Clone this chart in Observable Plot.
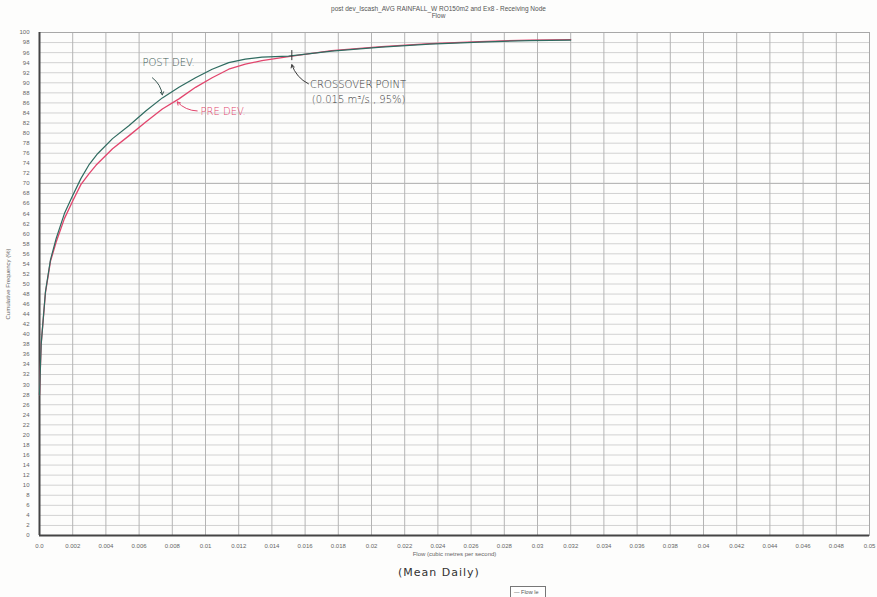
<!DOCTYPE html>
<html>
<head>
<meta charset="utf-8">
<script src="https://cdn.jsdelivr.net/npm/d3@7"></script>
<script src="https://cdn.jsdelivr.net/npm/@observablehq/plot@0.6"></script>
<style>
  html, body { margin: 0; padding: 0; background: #fdfdfc; }
  body { width: 877px; height: 597px; overflow: hidden; position: relative; font-family: "Liberation Sans", Arial, sans-serif; }
  #title { position: absolute; top: 5px; left: 0; width: 877px; text-align: center; font-size: 6.5px; line-height: 7px; color: #555; }
  #chart { position: absolute; top: 22px; left: 0; }
  #note { position: absolute; top: 566px; left: 398px; font-family: "DejaVu Sans", sans-serif; font-size: 11px; color: #333; letter-spacing: 1px; }
  #legend { position: absolute; top: 586px; left: 510px; width: 36px; height: 14px; border: 1px solid #777; font-size: 5.5px; color: #555; padding: 2px 0 0 3px; box-sizing: border-box; background: #fff; }
</style>
</head>
<body>
<div id="title">post dev_Iscash_AVG RAINFALL_W RO150m2 and Ex8 - Receiving Node<br>Flow</div>
<div id="chart"></div>
<div id="note">(Mean Daily)</div>
<div id="legend">— Flow le</div>
<script>
// Flow (m3/s) and cumulative frequency (%)
const postFlow = [0, 0.0001, 0.00036, 0.00066, 0.001, 0.0015, 0.002, 0.0025, 0.003, 0.0035, 0.0044, 0.0054, 0.0064, 0.0074, 0.0084, 0.0094, 0.0104, 0.0114, 0.0124, 0.0134, 0.015, 0.0176, 0.0206, 0.0235, 0.0265, 0.0295, 0.032];
const postFreq = [28, 38, 48.5, 54.8, 59, 64, 67.6, 71, 73.8, 75.9, 78.9, 81.5, 84.4, 87, 89.1, 91, 92.7, 94, 94.7, 95.1, 95.3, 96.3, 97.1, 97.7, 98.1, 98.4, 98.5];
const preFlow = [0, 0.0001, 0.00036, 0.00066, 0.001, 0.0015, 0.002, 0.0025, 0.003, 0.0034, 0.0044, 0.0054, 0.0064, 0.0074, 0.0084, 0.0094, 0.0104, 0.0114, 0.0124, 0.0134, 0.015, 0.0176, 0.0206, 0.0235, 0.0265, 0.0295, 0.032];
const preFreq = [28, 38, 48.3, 54.5, 58.3, 63, 66.5, 69.8, 72, 73.6, 76.9, 79.5, 82.2, 84.8, 86.8, 89.1, 91, 92.7, 93.7, 94.4, 95.2, 96.4, 97.2, 97.8, 98.2, 98.5, 98.6];

const xTicks = [0, 0.002, 0.004, 0.006, 0.008, 0.01, 0.012, 0.014, 0.016, 0.018, 0.02, 0.022, 0.024, 0.026, 0.028, 0.03, 0.032, 0.034, 0.036, 0.038, 0.04, 0.042, 0.044, 0.046, 0.048, 0.05];
const xTickLabels = ["0.0", "0.002", "0.004", "0.006", "0.008", "0.01", "0.012", "0.014", "0.016", "0.018", "0.02", "0.022", "0.024", "0.026", "0.028", "0.03", "0.032", "0.034", "0.036", "0.038", "0.04", "0.042", "0.044", "0.046", "0.048", "0.05"];
const yTicks = [0, 2, 4, 6, 8, 10, 12, 14, 16, 18, 20, 22, 24, 26, 28, 30, 32, 34, 36, 38, 40, 42, 44, 46, 48, 50, 52, 54, 56, 58, 60, 62, 64, 66, 68, 70, 72, 74, 76, 78, 80, 82, 84, 86, 88, 90, 92, 94, 96, 98, 100];

// handwritten annotations (data units)
const noteText = ["POST DEV.", "PRE DEV.", "CROSSOVER POINT", "(0.015 m³/s , 95%)"];
const noteX = [0.0062, 0.0097, 0.0163, 0.0164];
const noteY = [94, 84.2, 89.6, 86.6];
const noteColor = ["#3e5a55", "#e2456d", "#3a3a3a", "#3a3a3a"];
const arrowX1 = [0.0068, 0.0095, 0.0162];
const arrowY1 = [91, 84.4, 89.8];
const arrowX2 = [0.0074, 0.0083, 0.0152];
const arrowY2 = [87.6, 86.2, 93.6];
const arrowColor = ["#3e5a55", "#e2456d", "#3a3a3a"];
const crossX = [0.0152];
const crossY1 = [94.4];
const crossY2 = [96.4];

const post = postFlow.map((x, i) => ({x, y: postFreq[i]}));
const pre = preFlow.map((x, i) => ({x, y: preFreq[i]}));
const notes = noteText.map((t, i) => ({t, x: noteX[i], y: noteY[i], c: noteColor[i]}));
const arrows = arrowX1.map((x1, i) => ({x1, y1: arrowY1[i], x2: arrowX2[i], y2: arrowY2[i], c: arrowColor[i]}));
const cross = crossX.map((x, i) => ({x, y1: crossY1[i], y2: crossY2[i]}));

const chart = Plot.plot({
  width: 877,
  height: 540,
  marginLeft: 39,
  marginRight: 8,
  marginTop: 10,
  marginBottom: 27,
  style: {fontSize: "6px", fontFamily: "Liberation Sans, Arial, sans-serif", color: "#666", background: "transparent"},
  x: {domain: [0, 0.05], ticks: xTicks},
  y: {domain: [0, 100], ticks: yTicks},
  marks: [
    Plot.gridY(yTicks, {stroke: "#d2d2d2", strokeOpacity: 1}),
    Plot.ruleY([70], {stroke: "#b4b4b4", strokeWidth: 1}),
    Plot.gridX(xTicks, {stroke: "#b4b4b4", strokeOpacity: 1}),
    Plot.frame({stroke: "#a8a8a8"}),
    Plot.ruleX([0], {stroke: "#444", strokeWidth: 2}),
    Plot.ruleY([0], {stroke: "#444", strokeWidth: 2}),
    Plot.axisX({ticks: xTicks, tickSize: 0, tickPadding: 8, tickFormat: (d, i) => xTickLabels[i], label: "Flow (cubic metres per second)", labelAnchor: "center", labelArrow: "none", labelOffset: 20, fill: "#666"}),
    Plot.axisY({ticks: yTicks, tickSize: 0, tickPadding: 10, label: "Cumulative Frequency (%)", labelAnchor: "center", labelArrow: "none", labelOffset: 34, fill: "#666"}),
    Plot.line(pre, {x: "x", y: "y", stroke: "#e2456d", strokeWidth: 1.3}),
    Plot.line(post, {x: "x", y: "y", stroke: "#2f6b60", strokeWidth: 1.2}),
    Plot.ruleX(cross, {x: "x", y1: "y1", y2: "y2", stroke: "#333", strokeWidth: 1}),
    Plot.arrow(arrows, {x1: "x1", y1: "y1", x2: "x2", y2: "y2", stroke: "c", bend: true, strokeWidth: 1, headLength: 5}),
    Plot.text(notes, {x: "x", y: "y", text: "t", fill: "c", textAnchor: "start", fontSize: 10, fontFamily: "DejaVu Sans, sans-serif", fontWeight: 300, letterSpacing: 1, clip: false})
  ]
});
document.getElementById("chart").appendChild(chart);
</script>
</body>
</html>
